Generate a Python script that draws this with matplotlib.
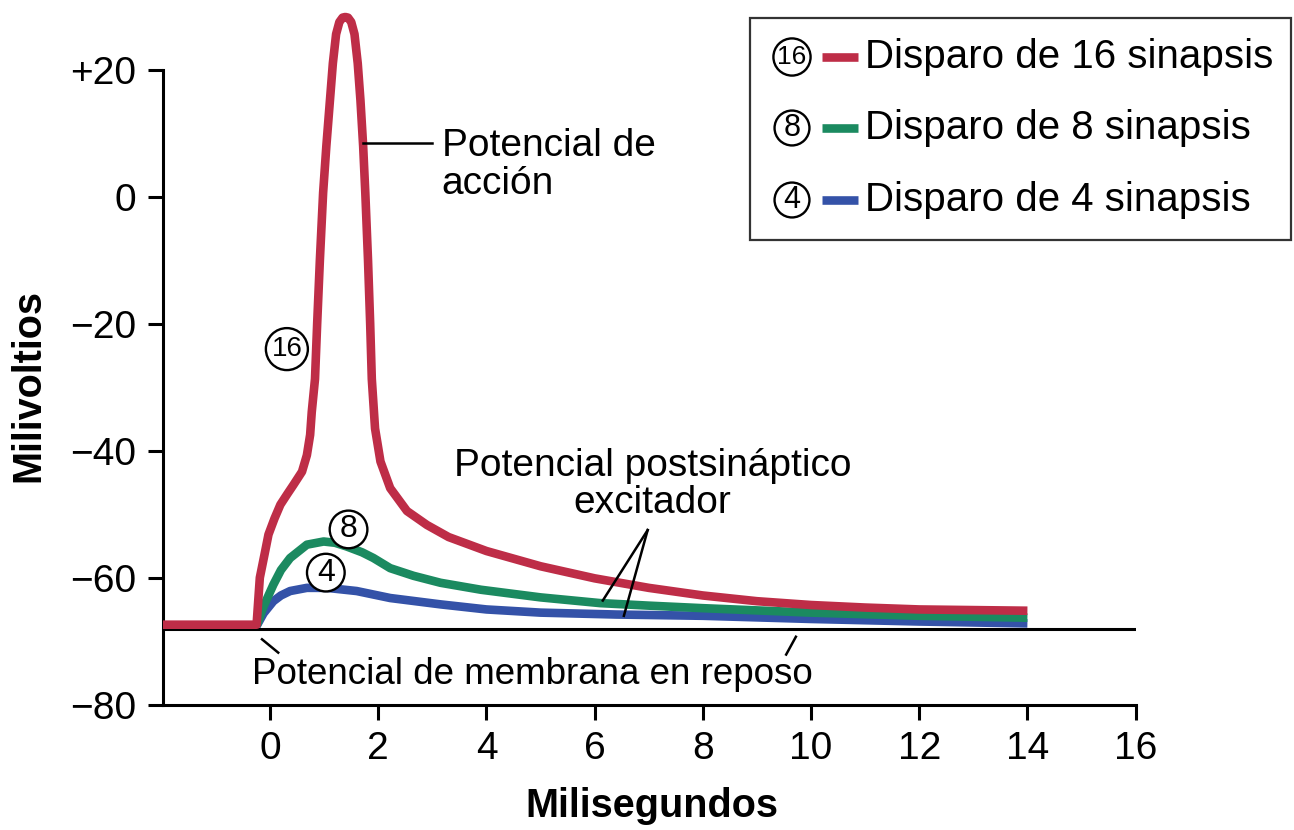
"""
Sumación espacial: potencial de membrana tras el disparo de 4, 8 y 16 sinapsis.
"""

import matplotlib
matplotlib.use("Agg")
import matplotlib.pyplot as plt
from matplotlib.patches import Rectangle

plt.rcParams['font.family'] = ['Liberation Sans', 'DejaVu Sans']

# --- datos (ms, mV) ---
t_16 = [-1.98, -0.25, -0.19, -0.10, -0.03, 0.08, 0.19, 0.32, 0.43, 0.59, 0.68,
        0.74, 0.77, 0.83, 0.87, 0.92, 0.98, 1.04, 1.10, 1.16, 1.22, 1.28, 1.34,
        1.39, 1.44, 1.50, 1.56, 1.62, 1.67, 1.72, 1.76, 1.81, 1.85, 1.88, 1.94,
        2.04, 2.22, 2.53, 2.90, 3.30, 4.00, 5.00, 6.00, 7.00, 8.00, 9.00, 10.00,
        11.00, 12.00, 13.00, 14.00]
mv_16 = [-67.4, -67.4, -60.0, -56.2, -53.2, -50.7, -48.5, -46.8, -45.4, -43.3, -40.7,
         -37.5, -33.9, -28.7, -20.0, -10.0, 0.6, 8.0, 14.5, 21.0, 25.6, 27.5, 28.2,
         28.3, 28.2, 27.5, 25.6, 21.0, 15.2, 8.0, 0.6, -10.0, -20.0, -28.7, -36.5,
         -41.7, -45.9, -49.5, -51.7, -53.6, -55.8, -58.2, -60.1, -61.6, -62.8, -63.7, -64.3,
         -64.7, -65.0, -65.1, -65.2]

t_8 = [-0.25, -0.12, 0.06, 0.20, 0.37, 0.68, 0.99, 1.20, 1.42, 1.70, 1.91, 2.22,
       2.65, 3.15, 3.90, 5.00, 6.10, 7.00, 8.00, 10.00, 12.00, 14.00]
mv_8 = [-67.6, -64.5, -61.1, -58.8, -56.9, -54.8, -54.3, -54.5, -55.1, -56.0, -56.9, -58.5,
        -59.7, -60.8, -61.9, -63.1, -64.0, -64.4, -64.8, -65.5, -66.0, -66.3]

t_4 = [-0.25, -0.12, 0.06, 0.20, 0.37, 0.68, 1.05, 1.60, 2.22, 3.15, 4.00, 5.00,
       6.40, 8.00, 10.00, 12.00, 14.00]
mv_4 = [-67.6, -65.6, -63.7, -62.8, -62.1, -61.6, -61.6, -62.1, -63.2, -64.2, -65.0, -65.5,
        -65.8, -66.0, -66.5, -66.9, -67.2]

resting_mv = -68.0

series_labels = ["16", "8", "4"]
legend_texts = ["Disparo de 16 sinapsis", "Disparo de 8 sinapsis", "Disparo de 4 sinapsis"]
x_ticks = [0, 2, 4, 6, 8, 10, 12, 14, 16]
y_ticks = [-80, -60, -40, -20, 0, 20]
y_ticklabels = ["\u221280", "\u221260", "\u221240", "\u221220", "0", "+20"]

RED = "#BE2D47"
GREEN = "#1B8A60"
BLUE = "#3452A8"
colors = [RED, GREEN, BLUE]

W, H = 1294, 830
fig = plt.figure(figsize=(W / 100, H / 100), dpi=100)
ax = fig.add_axes([163 / W, 1 - 704.7 / H, 972.6 / W, (704.7 - 6.2) / H])
ax.set_xlim(-1.98, 16)
ax.set_ylim(-80, 30)

# línea de potencial de reposo
ax.plot([-1.98, 16], [resting_mv, resting_mv], color="black", lw=2.2,
        solid_capstyle="butt", zorder=2)

line_kw = dict(lw=6.2, solid_capstyle="butt", solid_joinstyle="round", clip_on=False)
ax.plot(t_4, mv_4, color=BLUE, zorder=3, **line_kw)
ax.plot(t_8, mv_8, color=GREEN, zorder=4, **line_kw)
ax.plot(t_16, mv_16, color=RED, zorder=5, **line_kw)

# ejes
for side in ("top", "right"):
    ax.spines[side].set_visible(False)
ax.spines["left"].set_bounds(-80, 20)
for side in ("left", "bottom"):
    ax.spines[side].set_linewidth(2.2)
ax.set_xticks(x_ticks)
ax.set_xticklabels([str(v) for v in x_ticks])
ax.set_yticks(y_ticks)
ax.set_yticklabels(y_ticklabels)
ax.tick_params(axis="both", length=11, width=2.2, labelsize=28, pad=8)

fig.text(28 / W, 1 - 386 / H, "Milivoltios", rotation=90, fontsize=28.5,
         fontweight="bold", ha="center", va="center")
fig.text(652 / W, 1 - 806 / H, "Milisegundos", fontsize=28.5,
         fontweight="bold", ha="center", va="center")

# anotaciones
ann_fs = 28
ax.plot([1.72, 3.0], [8.5, 8.5], color="black", lw=1.8, zorder=6)
ax.text(3.17, 5.0, "Potencial de\nacción", fontsize=ann_fs, ha="left", va="center",
        linespacing=1.05)

ax.text(7.07, -45.3, "Potencial postsináptico\nexcitador", fontsize=ann_fs,
        ha="center", va="center", multialignment="center", linespacing=1.05)
ax.plot([6.98, 6.15], [-52.5, -63.6], color="black", lw=1.8, zorder=6)
ax.plot([6.98, 6.54], [-52.5, -66.0], color="black", lw=1.8, zorder=6)

ax.text(4.85, -75.3, "Potencial de membrana en reposo", fontsize=26.5,
        ha="center", va="center")
ax.plot([-0.15, 0.15], [-69.7, -71.8], color="black", lw=1.8)
ax.plot([9.72, 9.54], [-69.3, -72.1], color="black", lw=1.8)


def circled(x, y, lab, transform, sizes=(20, 23), pads=(0.2, 0.12)):
    two = len(lab) > 1
    box = dict(boxstyle=f"circle,pad={pads[0] if two else pads[1]}",
               fc="white", ec="black", lw=1.7)
    fig.text(x, y, lab, fontsize=sizes[0] if two else sizes[1], ha="center",
             va="center", bbox=box, transform=transform, zorder=7)


circled(0.31, -24.0, "16", ax.transData)
circled(1.45, -52.4, "8", ax.transData)
circled(1.03, -59.2, "4", ax.transData)

# leyenda dibujada a mano
fig.patches.append(Rectangle((750 / W, 1 - 240 / H), 541 / W, 222 / H,
                             transform=fig.transFigure, fill=False,
                             ec="#333333", lw=1.6))
row_y = [57, 128, 200]
for lab, txt, col, y in zip(series_labels, legend_texts, colors, row_y):
    fy = 1 - y / H
    circled(792 / W, fy, lab, fig.transFigure, sizes=(19, 22), pads=(0.15, 0.08))
    fig.add_artist(plt.Line2D([822 / W, 858 / W], [fy, fy], color=col, lw=6.2,
                              solid_capstyle="butt", transform=fig.transFigure))
    fig.text(865 / W, fy, txt, fontsize=29, ha="left", va="center")

fig.savefig("out.png", dpi=100)
